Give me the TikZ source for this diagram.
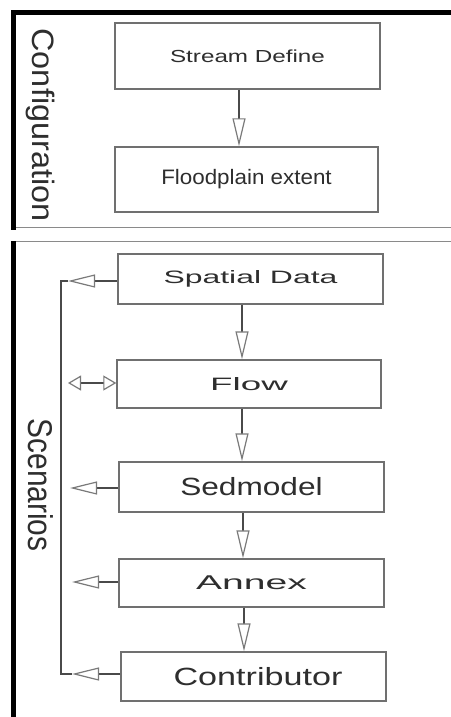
\documentclass[tikz,border=0pt]{standalone}
\usepackage{fontspec}
\setmainfont{Liberation Sans}
\usetikzlibrary{arrows.meta}
\definecolor{boxgray}{HTML}{707070}
\definecolor{shaftgray}{HTML}{4A4A4A}
\definecolor{headgray}{HTML}{7A7A7A}
\definecolor{txtgray}{HTML}{2E2E2E}
\definecolor{rulegray}{HTML}{8A8A8A}
\begin{document}
\begin{tikzpicture}[x=1bp,y=-1bp,
  box/.style={draw=boxgray, line width=1.4bp, rectangle, inner sep=0pt, text=txtgray},
  flowarr/.style={draw=shaftgray, line width=2.4bp,
    -{Triangle[open, length=28bp, width=13bp, line width=1.2bp, color=headgray, fill=white]}},
  sidearr/.style={draw=shaftgray, line width=2.4bp,
    -{Triangle[open, length=27bp, width=13bp, line width=1.2bp, color=headgray, fill=white]}},
  dblarr/.style={draw=shaftgray, line width=2.4bp,
    {Triangle[open, length=13bp, width=15bp, line width=1.2bp, color=headgray, fill=white]}-{Triangle[open, length=13bp, width=15bp, line width=1.2bp, color=headgray, fill=white]}},
  bracket/.style={draw=shaftgray, line width=1.4bp},
  paneltitle/.style={rotate=-90, text=txtgray, inner sep=0pt},
]
\useasboundingbox (0,0) rectangle (451,717);
\fill[white] (0,0) rectangle (451,717);

% panel frames
\draw[line width=5bp, black, line join=miter, line cap=rect] (451,13) -- (13.5,13) -- (13.5,227);
\draw[line width=1.3bp, rulegray] (16,227.5) -- (451,227.5);
\draw[line width=1.3bp, rulegray] (11,241.5) -- (451,241.5);
\draw[line width=5bp, black] (13.5,241) -- (13.5,717);

% panel titles
\node[paneltitle, font=\fontsize{31}{31}\selectfont] (cfg) at (40,125) {\scalebox{1.05}[1]{Configuration}};
\node[paneltitle, font=\fontsize{30}{30}\selectfont] (scn) at (40.5,485) {\scalebox{1}[1.15]{Scenarios}};

% configuration boxes
\node[box, minimum width=265bp, minimum height=66bp, font=\fontsize{17.5}{17.5}\selectfont] (sd) at (247.5,56) {\scalebox{1.39}[1]{Stream Define}};
\node[box, minimum width=263bp, minimum height=65bp, font=\fontsize{21}{21}\selectfont] (fe) at (246.5,179.5) {\scalebox{1.07}[1]{Floodplain extent}\hspace{8bp}};

% scenario boxes
\node[box, minimum width=265bp, minimum height=50bp, font=\fontsize{18}{18}\selectfont] (sp) at (250.5,279) {\scalebox{1.78}[1]{Spatial Data}\hspace{16bp}};
\node[box, minimum width=264bp, minimum height=48bp, font=\fontsize{18}{18}\selectfont] (fl) at (249,384) {\scalebox{2.05}[1]{Flow}\hspace{26bp}};
\node[box, minimum width=265bp, minimum height=50bp, font=\fontsize{25}{25}\selectfont] (se) at (251.5,487) {\scalebox{1.27}[1]{Sedmodel}};
\node[box, minimum width=265bp, minimum height=48bp, font=\fontsize{20}{20}\selectfont] (an) at (251.5,583) {\scalebox{1.96}[1]{Annex}\hspace{8bp}};
\node[box, minimum width=265bp, minimum height=49bp, font=\fontsize{25}{25}\selectfont] (co) at (253.5,676.5) {\hspace{9bp}\scalebox{1.37}[1]{Contributor}};

% vertical connector columns
\coordinate (c1) at (239,0);
\coordinate (c2) at (242,0);
\coordinate (c3) at (242,0);
\coordinate (c4) at (243,0);
\coordinate (c5) at (244,0);
\draw[flowarr] (sd.south -| c1) -- (fe.north -| c1);
\draw[flowarr] (sp.south -| c2) -- (fl.north -| c2);
\draw[flowarr] (fl.south -| c3) -- (se.north -| c3);
\draw[flowarr] (se.south -| c4) -- (an.north -| c4);
\draw[flowarr] (an.south -| c5) -- (co.north -| c5);

% side connectors
\coordinate (t1) at (68,281);
\coordinate (t2) at (68,383);
\coordinate (t3) at (70,488);
\coordinate (t4) at (72,582);
\coordinate (t5) at (72,674);
\coordinate (bx) at (61,0);
\draw[sidearr] (sp.west |- t1) -- (t1);
\draw[dblarr] (t2) -- (fl.west |- t2);
\draw[sidearr] (se.west |- t3) -- (t3);
\draw[sidearr] (an.west |- t4) -- (t4);
\draw[sidearr] (co.west |- t5) -- (t5);
\draw[bracket] (t1) -- (t1 -| bx) -- (t5 -| bx) -- (t5);
\end{tikzpicture}
\end{document}
